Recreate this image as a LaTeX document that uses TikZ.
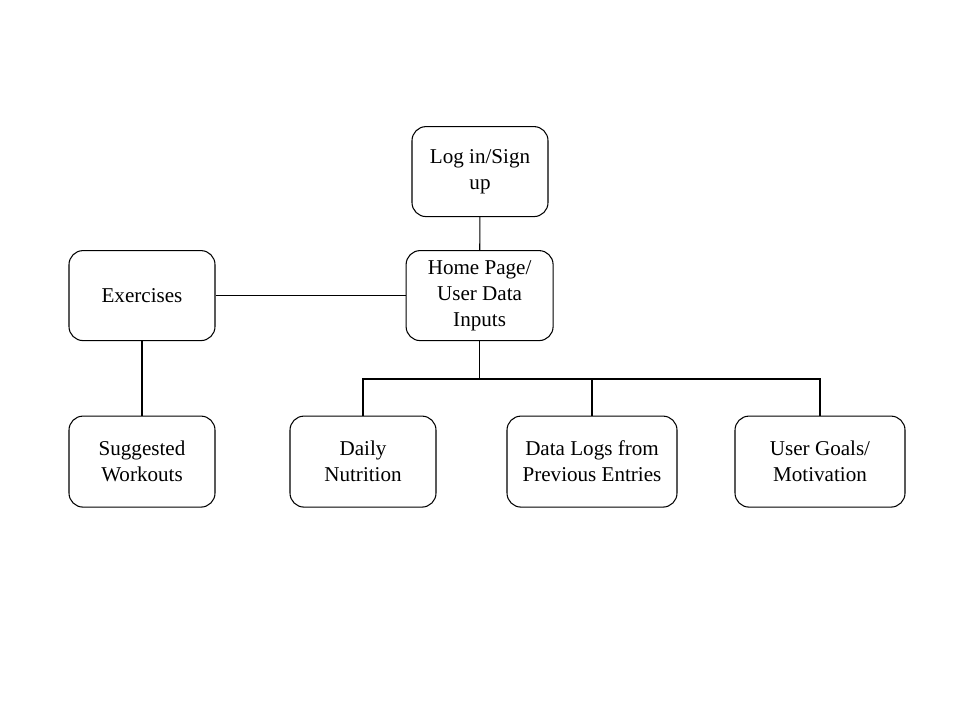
\documentclass[tikz,border=0pt]{standalone}
\usepackage{fontspec}
\setmainfont{Liberation Serif}
\usetikzlibrary{positioning,calc}
\tikzset{
  pagebox/.style={
    rounded corners=10pt,
    draw=black,
    fill=white,
    line width=0.75pt,
    minimum width=3.65cm,
    minimum height=2.25cm,
    align=center,
    inner sep=2pt,
    font=\fontsize{15}{18.5}\selectfont
  },
  link/.style={
    line width=0.75pt,
    draw=black
  }
}
\begin{document}
\begin{tikzpicture}
  \useasboundingbox[fill=white] (0,0) rectangle (24,18);
  \node[pagebox, minimum width=3.4cm] (login) at (12.0,13.71) {Log in/Sign\\up};
  \node[pagebox, minimum width=3.675cm] (home) at (11.99,10.61) {Home Page/\\User Data\\Inputs};
  \node[pagebox] (exercises) at (3.55,10.61) {Exercises};
  \node[pagebox, minimum height=2.275cm] (workouts) at (3.55,6.46) {Suggested\\Workouts};
  \node[pagebox, minimum height=2.275cm] (nutrition) at (9.075,6.46) {Daily\\Nutrition};
  \node[pagebox, minimum width=4.25cm, minimum height=2.275cm] (logs) at (14.8,6.46) {Data Logs from\\Previous Entries};
  \node[pagebox, minimum width=4.25cm, minimum height=2.275cm] (goals) at (20.5,6.46) {User Goals/\\Motivation};
  \coordinate (bus) at ($(home.south |- 0,8.525)$);
  \draw[link] (login) -- (home);
  \draw[link] (exercises) -- (home);
  \draw[link] (exercises) -- (workouts);
  \draw[link] (home.south) -- (bus);
  \draw[link] (nutrition.north) |- (bus) -| (goals.north);
  \draw[link] (logs.north) -- (logs.north |- bus);
\end{tikzpicture}
\end{document}
